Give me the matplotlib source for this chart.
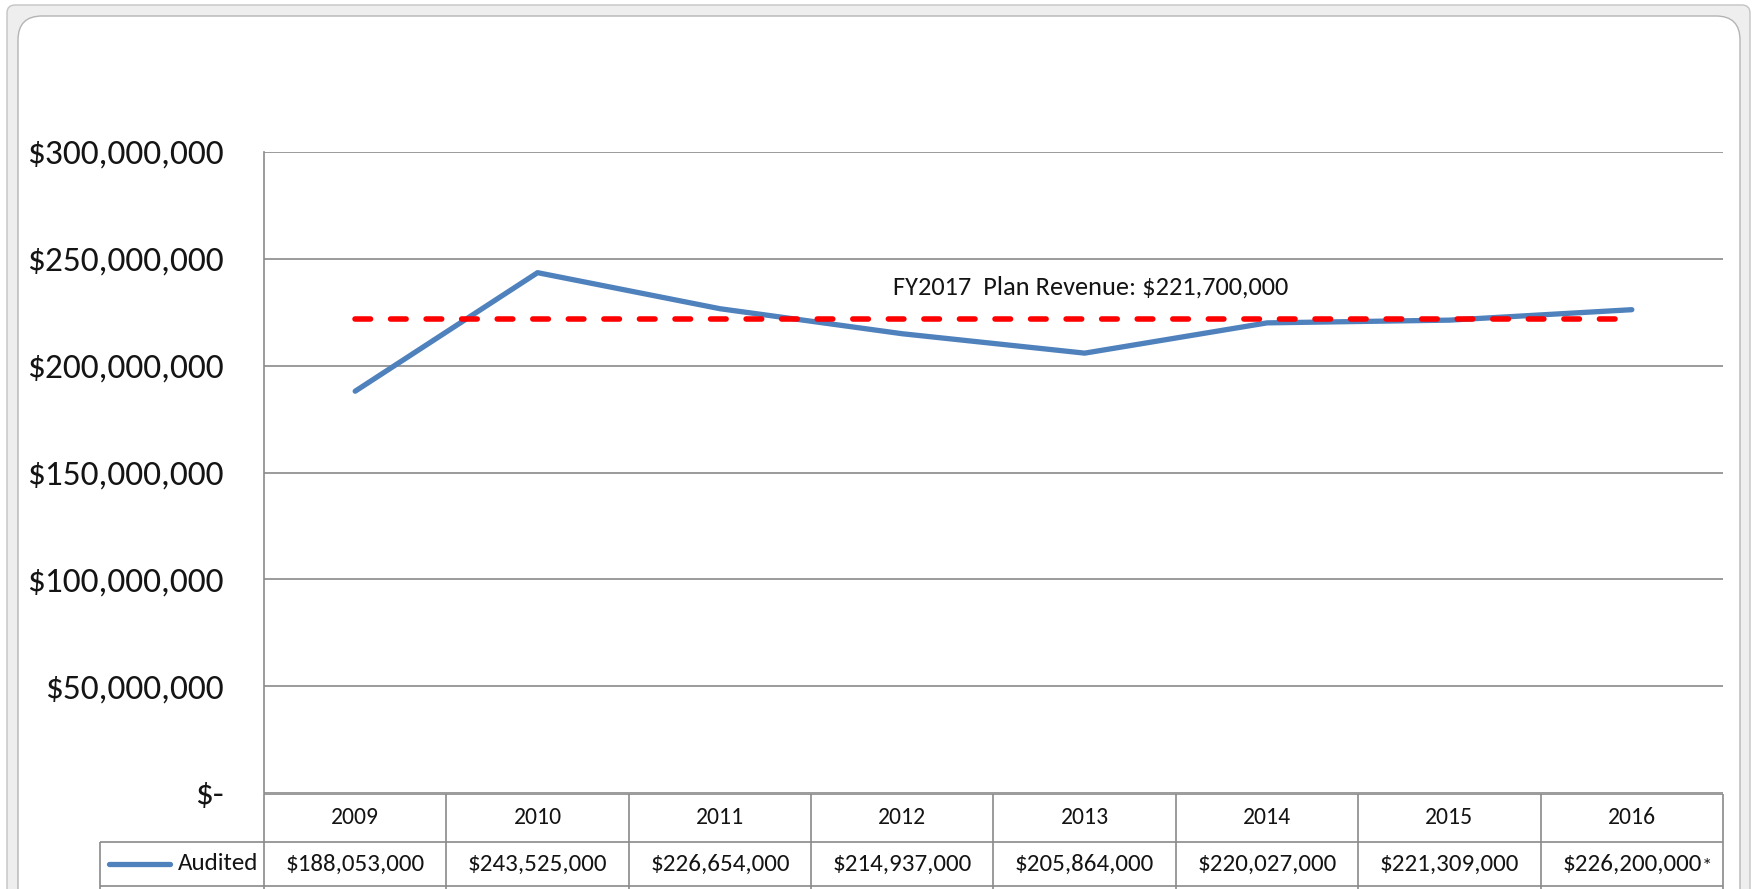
import numpy as np
import matplotlib
matplotlib.use('Agg')
import matplotlib.pyplot as plt
from matplotlib.patches import FancyBboxPatch

# data
years = ['2009', '2010', '2011', '2012', '2013', '2014', '2015', '2016']
audited = [188053000, 243525000, 226654000, 214937000, 205864000,
           220027000, 221309000, 226200000]
series_name = 'Audited'
plan_revenue = 221700000
plan_label = 'FY2017  Plan Revenue: $221,700,000'
yticks = [0, 50000000, 100000000, 150000000, 200000000, 250000000, 300000000]
ytick_labels = ['$-', '$50,000,000', '$100,000,000', '$150,000,000',
                '$200,000,000', '$250,000,000', '$300,000,000']

W, H = 1758, 889
plt.rcParams['font.family'] = ['Carlito', 'Lato', 'DejaVu Sans']
txt = '#141414'
grid_c = '#8A8A8A'
blue = '#4F81BD'

def px(x0, y0, x1, y1):
    return [x0 / W, 1 - y1 / H, (x1 - x0) / W, (y1 - y0) / H]

fig = plt.figure(figsize=(W / 100, H / 100), dpi=100)

# window frame behind the chart
bg = fig.add_axes([0, 0, 1, 1])
bg.set_xlim(0, W)
bg.set_ylim(H, 0)
bg.axis('off')
bg.add_patch(FancyBboxPatch((7, 5), 1743, 920, boxstyle='round,pad=0,rounding_size=8',
                            fc='#EEEEEE', ec='#C4C4C4', lw=1))
bg.add_patch(FancyBboxPatch((18, 16), 1722, 920, boxstyle='round,pad=0,rounding_size=24',
                            fc='white', ec='#B4B4B4', lw=1))

# plot area
ax = fig.add_axes(px(264, 152, 1723, 793))
ax.set_facecolor('none')
x = np.arange(len(years))
ax.plot(x, audited, color=blue, lw=3.8, solid_capstyle='round',
        solid_joinstyle='round', zorder=3)
ax.plot([x[0], x[-1]], [plan_revenue, plan_revenue], color='#FF0000', lw=4.0,
        dashes=(2.8, 3.6), dash_capstyle='round', zorder=4)
ax.annotate(plan_label, (4.03, plan_revenue), xytext=(0, 23),
            textcoords='offset points', ha='center', va='center',
            fontsize=19, color=txt)

ax.set_xlim(-0.5, len(years) - 0.5)
ax.set_ylim(0, 300000000)
ax.set_xticks([])
ax.set_yticks(yticks, ytick_labels)
ax.tick_params(axis='y', length=0, pad=29, labelsize=25.5, labelcolor=txt)
ax.yaxis.grid(True, color=grid_c, lw=1.2)
for s in ['top', 'right', 'bottom']:
    ax.spines[s].set_visible(False)
ax.spines['left'].set_color(grid_c)
ax.spines['left'].set_linewidth(1.2)

# data table under the plot
tab = fig.add_axes(px(264, 793, 1723, 889))
tab.set_xlim(-0.5, len(years) - 0.5)
tab.set_ylim(889, 793)
tab.axis('off')
colw = (1723 - 264) / len(years)
left = -0.5 - (264 - 100) / colw
lk = dict(color=grid_c, lw=1.2, clip_on=False)
tab.hlines(794, -0.5, len(years) - 0.5, **lk)
tab.hlines([842, 886], left, len(years) - 0.5, **lk)
tab.vlines(np.arange(len(years) + 1) - 0.5, 794, 889, **lk)
tab.vlines(left, 842, 889, **lk)

for i, yr in enumerate(years):
    tab.text(i, 818, yr, ha='center', va='center', fontsize=17, color=txt)
    tab.text(i, 864, f'${audited[i]:,}', ha='center', va='center',
             fontsize=18, color=txt)
tab.text(len(years) - 1 + 0.385, 867, '*', ha='left', va='center',
         fontsize=15, color=txt)

tab.plot([left + 9 / colw, left + 70 / colw], [864, 864], color=blue, lw=3.8,
         solid_capstyle='round', clip_on=False)
tab.text(-0.5 - 6 / colw, 864, series_name, ha='right', va='center',
         fontsize=18, color=txt, clip_on=False)

fig.savefig('out.png', dpi=100)
